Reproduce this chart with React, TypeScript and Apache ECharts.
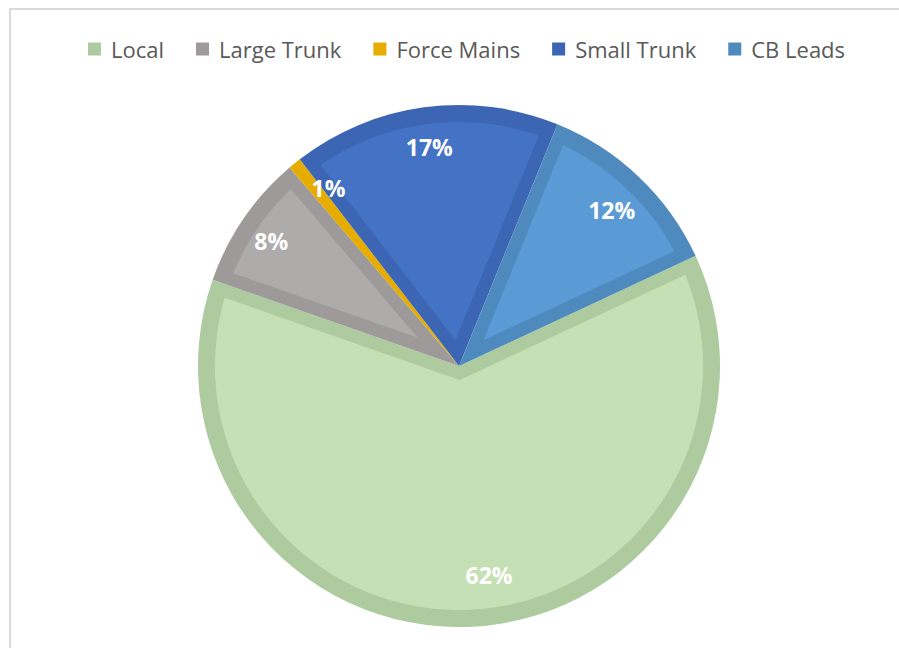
import React, { useEffect, useRef } from 'react';
import * as echarts from 'echarts';

const categories = ['Local', 'Large Trunk', 'Force Mains', 'Small Trunk', 'CB Leads'];
const shares = [62.3, 8.4, 0.8, 16.6, 11.9];
const fillColors = ['#C5E0B4', '#AEABAB', '#FFC000', '#4472C4', '#5B9BD5'];
const edgeColors = ['#AECA9F', '#9E9A9A', '#E6AD00', '#3C66B3', '#4F8ABF'];

const CENTER: [number, number] = [459, 366];
const RADIUS = 261;
const START_ANGLE = 25;
const EDGE = 13;
const RIM = 17;

export default function App() {
  const ref = useRef<HTMLDivElement>(null);
  useEffect(() => {
    const chart = echarts.init(ref.current!, null, { renderer: 'svg' });
    const total = shares.reduce((a, b) => a + b, 0);

    const renderItem = (params: any) => {
      const i = params.dataIndex;
      let before = 0;
      for (let k = 0; k < i; k++) before += shares[k];
      const base = (-START_ANGLE * Math.PI) / 180;
      const a0 = base + (before / total) * 2 * Math.PI;
      const a1 = a0 + (shares[i] / total) * 2 * Math.PI;
      const half = (a1 - a0) / 2;
      const ro = RADIUS - RIM;
      const s = EDGE / Math.sin(half);
      if (!(s > 0) || s >= ro) return { type: 'group', children: [] };
      const [cx, cy] = CENTER;
      const am = a0 + half;
      const pts: number[][] = [[cx + s * Math.cos(am), cy + s * Math.sin(am)]];
      const d = Math.asin(EDGE / ro);
      const b0 = a0 + d;
      const b1 = a1 - d;
      const n = Math.max(2, Math.ceil((b1 - b0) / 0.01));
      for (let j = 0; j <= n; j++) {
        const a = b0 + ((b1 - b0) * j) / n;
        pts.push([cx + ro * Math.cos(a), cy + ro * Math.sin(a)]);
      }
      return {
        type: 'polygon',
        shape: { points: pts },
        style: { fill: fillColors[i] },
      };
    };

    const labelShift: Record<string, number[]> = {
      Local: [19, -12],
      'Force Mains': [9, -6],
      'Large Trunk': [-5, 0],
      'CB Leads': [0, 4],
    };

    chart.setOption({
      animation: false,
      backgroundColor: '#ffffff',
      legend: {
        data: categories,
        left: 83,
        top: 33,
        icon: 'rect',
        itemWidth: 13,
        itemHeight: 13,
        itemGap: 32,
        textStyle: { fontFamily: 'Open Sans', fontSize: 22, color: '#595959', padding: [0, 0, 0, 5] },
        selectedMode: false,
      },
      graphic: [
        {
          type: 'rect',
          shape: { x: 10, y: 9, width: 1000, height: 1000 },
          style: { fill: 'none', stroke: '#D9D9D9', lineWidth: 2 },
          silent: true,
        },
      ],
      series: [
        {
          type: 'pie',
          z: 1,
          silent: true,
          center: CENTER,
          radius: [0, RADIUS],
          startAngle: START_ANGLE,
          clockwise: true,
          label: { show: false },
          labelLine: { show: false },
          emphasis: { disabled: true },
          data: categories.map((name, i) => ({ name, value: shares[i], itemStyle: { color: edgeColors[i] } })),
        },
        {
          type: 'custom',
          coordinateSystem: 'none',
          z: 2,
          silent: true,
          data: shares,
          renderItem,
        },
        {
          type: 'pie',
          z: 3,
          silent: true,
          center: CENTER,
          radius: [176, RADIUS],
          startAngle: START_ANGLE,
          clockwise: true,
          itemStyle: { color: 'rgba(0,0,0,0)' },
          labelLine: { show: false },
          emphasis: { disabled: true },
          label: {
            show: true,
            position: 'inside',
            color: '#ffffff',
            fontWeight: 'bold',
            fontSize: 23,
            fontFamily: 'Open Sans',
            formatter: (p: any) => Math.round(p.percent) + '%',
          },
          data: categories.map((name, i) => ({
            name,
            value: shares[i],
            label: labelShift[name] ? { offset: labelShift[name] } : undefined,
          })),
        },
      ],
    });
    return () => chart.dispose();
  }, []);
  return (
    <div
      ref={ref}
      style={{ position: 'fixed', left: 0, top: 0, width: 899, height: 648 }}
    />
  );
}
